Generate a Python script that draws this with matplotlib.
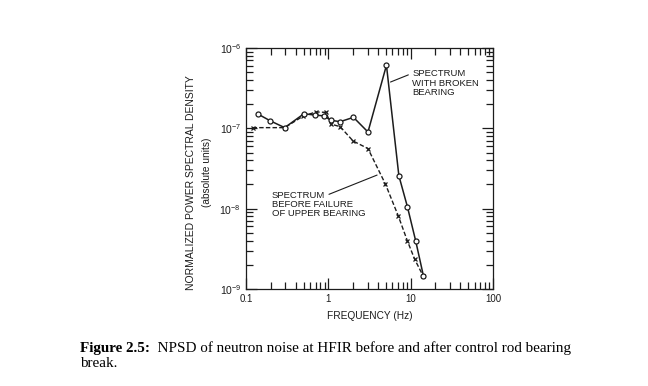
import matplotlib
matplotlib.use("Agg")
import matplotlib.pyplot as plt
from matplotlib.ticker import FixedLocator, LogLocator, NullFormatter

plt.rcParams['font.family'] = ['Liberation Sans', 'DejaVu Sans']
plt.rcParams['mathtext.fontset'] = 'custom'
plt.rcParams['mathtext.rm'] = 'Liberation Sans'
plt.rcParams['mathtext.it'] = 'Liberation Sans'

# Spectrum with broken bearing (solid, circles)
freq_broken = [0.139, 0.197, 0.295, 0.506, 0.69, 0.885, 1.07, 1.39, 2.02, 3.03, 5.08, 7.19, 9.12, 11.5, 14.3]
psd_broken = [1.51e-7, 1.24e-7, 1.02e-7, 1.52e-7, 1.46e-7, 1.43e-7, 1.26e-7, 1.21e-7, 1.37e-7, 0.9e-7,
              6.1e-7, 2.57e-8, 1.06e-8, 3.98e-9, 1.45e-9]

# Spectrum before failure of upper bearing (dashed, x)
freq_before = [0.12, 0.295, 0.494, 0.707, 0.937, 1.07, 1.39, 2.0, 3.03, 4.94, 7.08, 9.12, 11.2, 14.2]
psd_before = [1.02e-7, 1.02e-7, 1.42e-7, 1.60e-7, 1.58e-7, 1.13e-7, 1.05e-7, 6.95e-8, 5.6e-8, 2.02e-8,
              8.1e-9, 3.97e-9, 2.34e-9, 1.45e-9]

xticks = [0.1, 1, 10, 100]
xtick_labels = ['0.1', '1', '10', '100']
yticks = [1e-9, 1e-8, 1e-7, 1e-6]
ytick_labels = [r'$10^{-9}$', r'$10^{-8}$', r'$10^{-7}$', r'$10^{-6}$']

ink = '#1c1c1c'

fig = plt.figure(figsize=(6.48, 3.86), dpi=100)
ax = fig.add_axes([246 / 648, 1 - 289 / 386, (493 - 246) / 648, (289 - 48) / 386])

ax.plot(freq_broken, psd_broken, '-', color=ink, lw=1.1, marker='o', ms=3.6,
        mfc='white', mec=ink, mew=0.9, zorder=3)
ax.plot(freq_before, psd_before, linestyle=(0, (3.2, 1.6)), color=ink, lw=1.0,
        marker='x', ms=2.6, mew=0.9, zorder=2)

ax.set_xscale('log')
ax.set_yscale('log')
ax.set_xlim(0.1, 100)
ax.set_ylim(1e-9, 1e-6)

ax.xaxis.set_major_locator(FixedLocator(xticks))
ax.set_xticklabels(xtick_labels)
ax.yaxis.set_major_locator(FixedLocator(yticks))
ax.set_yticklabels(ytick_labels)
ax.xaxis.set_minor_locator(LogLocator(base=10, subs=range(2, 10)))
ax.yaxis.set_minor_locator(LogLocator(base=10, subs=range(2, 10)))
ax.xaxis.set_minor_formatter(NullFormatter())
ax.yaxis.set_minor_formatter(NullFormatter())

ax.tick_params(which='both', direction='in', top=True, right=True, color=ink,
               labelcolor=ink, width=0.9)
ax.tick_params(axis='x', labelsize=7)
ax.tick_params(axis='y', labelsize=7.5)
ax.tick_params(which='major', length=8, pad=3.5)
ax.tick_params(which='minor', length=5)
for s in ax.spines.values():
    s.set_color(ink)
    s.set_linewidth(0.9)

ax.set_xlabel('FREQUENCY (Hz)', fontsize=7.3, color=ink, labelpad=5)

fig.text(191.5 / 648, 1 - 183 / 386, 'NORMALIZED POWER SPECTRAL DENSITY', rotation=90,
         ha='center', va='center', fontsize=7.5, color=ink)
fig.text(207 / 648, 1 - 172 / 386, '(absolute units)', rotation=90,
         ha='center', va='center', fontsize=7.3, color=ink)

# Annotations
ann_fs = 6.8
ax.annotate('SPECTRUM', xy=(5.69, 3.77e-7), xytext=(10.5, 4.85e-7),
            fontsize=ann_fs, color=ink, ha='left', va='center',
            arrowprops=dict(arrowstyle='-', color=ink, lw=0.8, shrinkA=1, shrinkB=0,
                            relpos=(0, 0.5)))
ax.text(10.5, 4.15e-7, 'WITH BROKEN\nBEARING', fontsize=ann_fs, color=ink, ha='left', va='top',
        linespacing=1.05)

ax.annotate('SPECTRUM', xy=(3.91, 2.62e-8), xytext=(0.205, 1.44e-8),
            fontsize=ann_fs, color=ink, ha='left', va='center',
            arrowprops=dict(arrowstyle='-', color=ink, lw=0.8, shrinkA=1, shrinkB=0,
                            relpos=(1, 0.5)))
ax.text(0.205, 1.28e-8, 'BEFORE FAILURE\nOF UPPER BEARING', fontsize=ann_fs, color=ink,
        ha='left', va='top', linespacing=1.05)

# Caption
serif = ['Liberation Serif', 'DejaVu Serif']
cap_fs = 10.9
t1 = fig.text(80 / 648, 1 - 352 / 386, 'Figure 2.5:', fontsize=cap_fs, fontweight='bold',
              family=serif, ha='left', va='baseline', color='black')
t2 = fig.text(0, 1 - 352 / 386, '  NPSD of neutron noise at HFIR before and after control rod bearing',
              fontsize=cap_fs, family=serif, color='black', ha='left', va='baseline')
fig.text(80 / 648, 1 - 367 / 386, 'break.', fontsize=cap_fs, family=serif, ha='left',
         va='baseline', color='black')

fig.canvas.draw()
bb = t1.get_window_extent()
t2.set_position((bb.x1 / fig.bbox.width, 1 - 352 / 386))

fig.savefig('out.png', dpi=100)
